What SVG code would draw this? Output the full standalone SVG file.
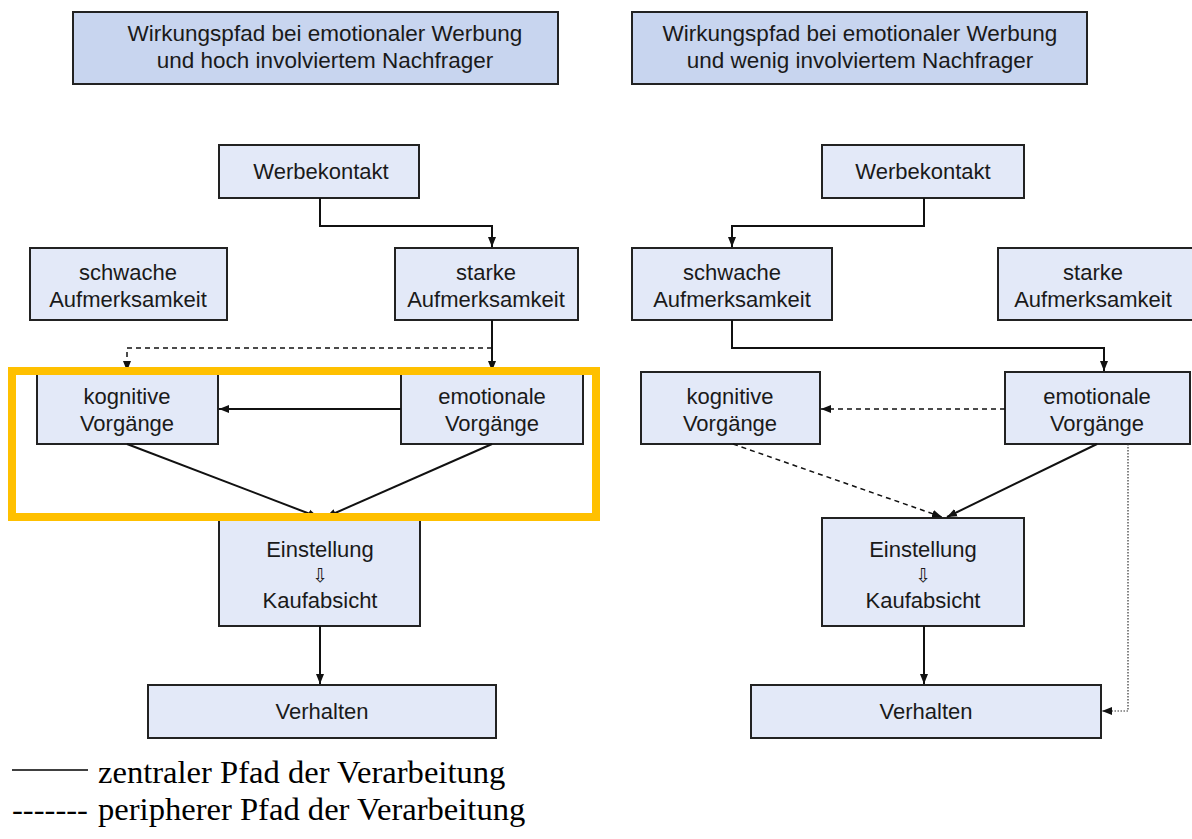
<svg xmlns="http://www.w3.org/2000/svg" width="1192" height="839" viewBox="0 0 1192 839">
  <style>
    .title rect { fill: #c8d5ef; stroke: #222; stroke-width: 2; }
    .title text { font-size: 22.5px; }
    .node rect { fill: #e3e9f8; stroke: #222; stroke-width: 2; }
    text { font-family: "Liberation Sans", Arial, sans-serif; font-size: 22px; fill: #1a1a1a; text-anchor: middle; }
    .legend text { font-family: "Liberation Serif", "Times New Roman", serif; font-size: 32.6px; fill: #000; text-anchor: start; }
    .arrow-glyph { font-family: "DejaVu Sans", sans-serif; font-size: 19px; fill: #1a1a1a; }
    .c { fill: none; stroke: #111; stroke-width: 2; }
    .d { fill: none; stroke: #111; stroke-width: 1.5; stroke-dasharray: 5 4; }
    .o { fill: none; stroke: #333; stroke-width: 1.2; stroke-dasharray: 1.5 1.5; }
  </style>
  <defs>
    <marker id="ah" viewBox="0 0 10 10" refX="10" refY="5" markerWidth="10" markerHeight="10" markerUnits="userSpaceOnUse" orient="auto">
      <path d="M0,1 L10,5 L0,9 Z" fill="#111"/>
    </marker>
  </defs>

  <rect width="1192" height="839" fill="#fff"/>

  <!-- left column: high involvement -->
  <g id="title-left" class="title">
    <rect x="73" y="12" width="485" height="72"/>
    <text x="325" y="41">Wirkungspfad bei emotionaler Werbung</text>
    <text x="325" y="68">und hoch involviertem Nachfrager</text>
  </g>
  <g id="werbekontakt-left" class="node">
    <rect x="219" y="145" width="200" height="53"/>
    <text x="321" y="179">Werbekontakt</text>
  </g>
  <g id="schwache-left" class="node">
    <rect x="30" y="248" width="197" height="72"/>
    <text x="128" y="280">schwache</text>
    <text x="128" y="307">Aufmerksamkeit</text>
  </g>
  <g id="starke-left" class="node">
    <rect x="395" y="248" width="183" height="72"/>
    <text x="486" y="280">starke</text>
    <text x="486" y="307">Aufmerksamkeit</text>
  </g>
  <g id="kognitiv-left" class="node">
    <rect x="37" y="372" width="181" height="72"/>
    <text x="127" y="404">kognitive</text>
    <text x="127" y="431">Vorgänge</text>
  </g>
  <g id="emotional-left" class="node">
    <rect x="401" y="372" width="182" height="72"/>
    <text x="492" y="404">emotionale</text>
    <text x="492" y="431">Vorgänge</text>
  </g>
  <g id="einstellung-left" class="node">
    <rect x="219" y="518" width="201" height="108"/>
    <text x="320" y="557">Einstellung</text>
    <text x="320" y="582" class="arrow-glyph">⇩</text>
    <text x="320" y="608">Kaufabsicht</text>
  </g>
  <g id="verhalten-left" class="node">
    <rect x="148" y="685" width="348" height="53"/>
    <text x="322" y="719">Verhalten</text>
  </g>

  <!-- right column: low involvement -->
  <g id="title-right" class="title">
    <rect x="632" y="12" width="455" height="72"/>
    <text x="860" y="41">Wirkungspfad bei emotionaler Werbung</text>
    <text x="860" y="68">und wenig involviertem Nachfrager</text>
  </g>
  <g id="werbekontakt-right" class="node">
    <rect x="822" y="145" width="202" height="53"/>
    <text x="923" y="179">Werbekontakt</text>
  </g>
  <g id="schwache-right" class="node">
    <rect x="632" y="248" width="200" height="72"/>
    <text x="732" y="280">schwache</text>
    <text x="732" y="307">Aufmerksamkeit</text>
  </g>
  <g id="starke-right" class="node">
    <rect x="998" y="248" width="200" height="72"/>
    <text x="1093" y="280">starke</text>
    <text x="1093" y="307">Aufmerksamkeit</text>
  </g>
  <g id="kognitiv-right" class="node">
    <rect x="641" y="372" width="179" height="72"/>
    <text x="730" y="404">kognitive</text>
    <text x="730" y="431">Vorgänge</text>
  </g>
  <g id="emotional-right" class="node">
    <rect x="1005" y="372" width="185" height="72"/>
    <text x="1097" y="404">emotionale</text>
    <text x="1097" y="431">Vorgänge</text>
  </g>
  <g id="einstellung-right" class="node">
    <rect x="822" y="518" width="202" height="108"/>
    <text x="923" y="557">Einstellung</text>
    <text x="923" y="582" class="arrow-glyph">⇩</text>
    <text x="923" y="608">Kaufabsicht</text>
  </g>
  <g id="verhalten-right" class="node">
    <rect x="751" y="685" width="350" height="53"/>
    <text x="926" y="719">Verhalten</text>
  </g>

  <g id="connectors">
    <!-- left -->
    <path class="c" d="M320,198 V226 H492 V247" marker-end="url(#ah)"/>
    <path class="c" d="M492,320 V371" marker-end="url(#ah)"/>
    <path class="d" d="M492,348 H127 V371" marker-end="url(#ah)"/>
    <path class="c" d="M401,409 H219" marker-end="url(#ah)"/>
    <path class="c" d="M127,444 L318,517" marker-end="url(#ah)"/>
    <path class="c" d="M492,444 L326,517" marker-end="url(#ah)"/>
    <path class="c" d="M320,626 V684" marker-end="url(#ah)"/>
    <!-- right -->
    <path class="c" d="M924,198 V226 H732 V247" marker-end="url(#ah)"/>
    <path class="c" d="M732,320 V348 H1104 V371" marker-end="url(#ah)"/>
    <path class="d" d="M1005,409 H821" marker-end="url(#ah)"/>
    <path class="d" d="M733,444 L942,517" marker-end="url(#ah)"/>
    <path class="c" d="M1097,444 L947,517" marker-end="url(#ah)"/>
    <path class="c" d="M924,626 V684" marker-end="url(#ah)"/>
    <path class="o" d="M1128,444 V711 H1102" marker-end="url(#ah)"/>
  </g>

  <!-- highlight frame -->
  <rect id="highlight" x="12" y="371" width="584" height="146" fill="none" stroke="#ffc000" stroke-width="8"/>

  <g id="legend" class="legend">
    <line x1="12" y1="770" x2="88" y2="770" stroke="#000" stroke-width="1.5"/>
    <text x="98" y="783">zentraler Pfad der Verarbeitung</text>
    <text x="12" y="820">-------</text>
    <text x="98" y="820">peripherer Pfad der Verarbeitung</text>
  </g>
</svg>
